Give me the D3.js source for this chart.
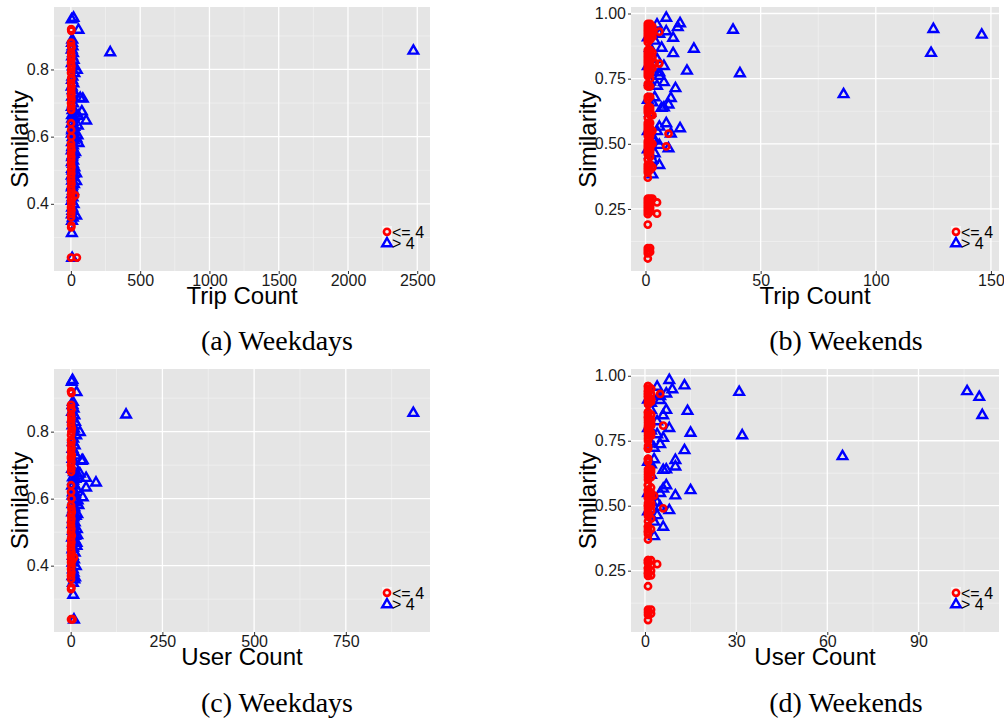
<!DOCTYPE html>
<html>
<head>
<meta charset="utf-8">
<script src="https://cdn.jsdelivr.net/npm/d3@7"></script>
<style>
  html, body { margin: 0; padding: 0; background: #ffffff; }
  svg { display: block; }
</style>
</head>
<body>
<svg id="chart" width="1004" height="720"></svg>
<script>
// ---------------- DATA ----------------
// Rows: [tripCount, userCount, similarity]
const weekdayLow = [
  [2,1,0.92],[3,2,0.915],[1,1,0.88],[2,1,0.87],[4,2,0.865],[1,1,0.85],[3,2,0.84],[2,1,0.83],
  [1,1,0.82],[4,3,0.81],[2,2,0.80],[1,1,0.79],[3,1,0.775],[2,2,0.77],[1,1,0.76],[4,2,0.75],
  [2,1,0.74],[3,3,0.73],[1,1,0.725],[2,1,0.72],[4,2,0.71],[1,1,0.70],[3,2,0.69],[2,1,0.68],
  [1,1,0.64],[2,1,0.62],[3,2,0.60],[1,1,0.58],[2,2,0.57],[4,3,0.56],[1,1,0.55],[3,2,0.54],
  [2,1,0.53],[1,1,0.52],[4,2,0.51],[2,1,0.50],[3,3,0.49],[1,1,0.48],[2,2,0.47],[4,1,0.46],
  [1,1,0.45],[3,2,0.44],[2,1,0.43],[31,9,0.425],[1,1,0.42],[6,4,0.415],[2,1,0.41],[3,2,0.40],
  [1,1,0.39],[4,2,0.38],[2,1,0.37],[1,1,0.36],[3,2,0.335],[2,1,0.33],[1,1,0.24],[43,5,0.24]
];
const weekdayHigh = [
  [2472,934,0.857],[284,151,0.852],[19,5,0.955],[5,3,0.95],[55,16,0.919],[43,25,0.80],
  [67,33,0.716],[86,30,0.714],[79,25,0.676],[55,42,0.663],[110,69,0.649],[50,42,0.634],
  [48,33,0.605],[55,21,0.582],[40,19,0.596],[31,18,0.555],[38,18,0.492],[38,16,0.469],
  [38,12,0.366],[7,7,0.314],[9,9,0.24],
  [10,6,0.89],[8,5,0.88],[12,8,0.87],[6,4,0.86],[15,10,0.85],[9,6,0.84],[20,12,0.83],[7,5,0.82],
  [14,9,0.81],[25,15,0.79],[11,7,0.78],[8,6,0.77],[18,11,0.76],[6,5,0.75],[13,8,0.74],[22,14,0.73],
  [9,5,0.72],[16,10,0.70],[7,4,0.69],[12,9,0.68],[30,20,0.67],[8,6,0.665],[20,13,0.66],[10,7,0.655],
  [14,8,0.645],[6,4,0.64],[25,16,0.63],[11,8,0.625],[9,6,0.62],[18,12,0.615],[7,5,0.61],[13,9,0.60],
  [22,15,0.59],[8,5,0.585],[15,10,0.575],[10,7,0.57],[6,4,0.56],[20,14,0.55],[12,8,0.545],[9,6,0.54],
  [16,11,0.53],[7,5,0.525],[14,10,0.52],[25,17,0.51],[8,6,0.505],[11,8,0.50],[18,12,0.49],[6,4,0.485],
  [13,9,0.48],[9,7,0.47],[22,16,0.46],[10,7,0.455],[7,5,0.45],[15,11,0.44],[8,6,0.43],[12,9,0.42],
  [6,5,0.41],[20,14,0.40],[9,6,0.39],[11,8,0.38],[7,5,0.37],[14,10,0.36],[8,6,0.35]
];
const weekendLow = [
  [1,1,0.96],[2,1,0.96],[1,1,0.95],[2,2,0.95],[3,2,0.95],[1,1,0.94],[2,1,0.94],[1,1,0.93],
  [2,2,0.93],[3,1,0.93],[6,5,0.93],[1,1,0.92],[2,1,0.92],[1,2,0.91],[2,1,0.91],[3,2,0.91],
  [1,1,0.90],[2,2,0.90],[1,1,0.89],
  [1,1,0.86],[2,1,0.86],[1,2,0.85],[2,2,0.85],[3,1,0.85],[1,1,0.84],[2,1,0.84],[1,1,0.83],
  [3,2,0.83],[1,2,0.82],[2,1,0.82],[1,1,0.81],[2,2,0.81],[4,2,0.81],[6,6,0.808],[1,1,0.80],
  [2,1,0.80],[1,1,0.79],[3,1,0.79],[1,2,0.78],[2,1,0.78],[1,1,0.77],[2,2,0.77],[1,1,0.76],
  [2,1,0.75],[1,1,0.73],[1,1,0.72],[2,1,0.72],
  [1,1,0.68],[2,1,0.68],[1,1,0.67],[1,2,0.64],[2,1,0.64],[1,1,0.63],[2,2,0.63],[1,1,0.62],
  [3,1,0.61],[2,2,0.61],[1,1,0.60],[1,1,0.58],[2,1,0.58],[1,2,0.57],[1,1,0.56],[2,1,0.56],
  [3,2,0.55],[1,1,0.55],[2,2,0.54],[1,1,0.54],[10,3,0.539],[1,1,0.53],[2,1,0.53],
  [1,1,0.51],[2,2,0.51],[1,1,0.50],[2,1,0.50],[3,2,0.50],[1,1,0.49],[9,6,0.49],[2,1,0.48],
  [1,2,0.48],[1,1,0.47],[2,1,0.47],[1,1,0.46],[2,2,0.45],[1,1,0.44],[1,1,0.42],[2,1,0.42],
  [1,1,0.41],[3,2,0.41],[1,1,0.40],[2,1,0.40],[1,1,0.39],[1,1,0.37],
  [1,1,0.29],[2,2,0.29],[3,1,0.29],[1,1,0.28],[2,1,0.28],[1,2,0.27],[5,4,0.275],[1,1,0.26],
  [2,1,0.26],[1,1,0.25],[2,2,0.25],[1,1,0.24],[2,1,0.24],[1,1,0.23],[5,2,0.232],
  [1,1,0.19],
  [1,1,0.10],[2,2,0.10],[1,1,0.09],[2,2,0.085],[1,1,0.08],[1,1,0.06]
];
const weekendHigh = [
  [9,8,0.985],[15,13,0.964],[5,4,0.959],[14,9,0.949],[38,31,0.939],[125,106,0.942],
  [146,110,0.920],[124,111,0.850],[9,7,0.933],[6,5,0.923],[12,5,0.908],[4,2,0.897],
  [7,7,0.870],[21,14,0.866],[12,6,0.849],[5,4,0.826],[8,8,0.80],[18,15,0.782],[41,32,0.772],
  [6,4,0.776],[6,6,0.762],[8,5,0.738],[5,3,0.724],[13,13,0.715],[86,65,0.692],[4,3,0.680],
  [11,10,0.677],[10,10,0.652],[8,7,0.641],[7,6,0.639],[9,7,0.580],[6,6,0.567],[15,15,0.561],
  [11,10,0.541],[5,5,0.550],[4,4,0.514],[6,5,0.497],[10,8,0.484],[4,4,0.465],[6,6,0.420],
  [3,3,0.384],[3,2,0.93],[2,2,0.87],[3,2,0.79],[2,2,0.74],[3,2,0.66],[2,2,0.62],[3,2,0.52],
  [1,1,0.91],[1,1,0.80],[1,1,0.67],[1,1,0.55],[1,1,0.48],[2,2,0.46],[3,3,0.44]
];

const tripWeekdayTicks = [0, 500, 1000, 1500, 2000, 2500];
const tripWeekdayLabels = ["0", "500", "1000", "1500", "2000", "2500"];
const userWeekdayTicks = [0, 250, 500, 750];
const userWeekdayLabels = ["0", "250", "500", "750"];
const tripWeekendTicks = [0, 50, 100, 150];
const tripWeekendLabels = ["0", "50", "100", "150"];
const userWeekendTicks = [0, 30, 60, 90];
const userWeekendLabels = ["0", "30", "60", "90"];
const simWeekdayTicks = [0.4, 0.6, 0.8];
const simWeekdayLabels = ["0.4", "0.6", "0.8"];
const simWeekendTicks = [0.25, 0.50, 0.75, 1.00];
const simWeekendLabels = ["0.25", "0.50", "0.75", "1.00"];
const legendLabels = ["<= 4", "> 4"];
const captions = ["(a) Weekdays", "(b) Weekends", "(c) Weekdays", "(d) Weekends"];

// ---------------- DRAW ----------------
const svg = d3.select("#chart");
svg.append("rect").attr("width", 1004).attr("height", 720).attr("fill", "#ffffff");

const SANS = "'Liberation Sans', Arial, Helvetica, sans-serif";
const SERIF = "'Liberation Serif', 'Times New Roman', Times, serif";
const RED = "#ff0000", BLUE = "#0000ff";

function minorBetween(ticks, domain) {
  const step = ticks[1] - ticks[0];
  const out = [];
  for (let i = -1; i < ticks.length; i++) {
    const v = (i < 0 ? ticks[0] - step : ticks[i]) + step / 2;
    if (v > domain[0] && v < domain[1]) out.push(v);
  }
  return out;
}

function triPath(cx, cy) {
  return `M${cx},${cy - 5}L${cx + 4.8},${cy + 3.3}L${cx - 4.8},${cy + 3.3}Z`;
}

function panel(cfg) {
  const x = d3.scaleLinear().domain(cfg.xDomain).range([cfg.left, cfg.right]);
  const y = d3.scaleLinear().domain(cfg.yDomain).range([cfg.bottom, cfg.top]);
  const g = svg.append("g");

  g.append("rect")
    .attr("x", cfg.left).attr("y", cfg.top)
    .attr("width", cfg.right - cfg.left).attr("height", cfg.bottom - cfg.top)
    .attr("fill", "#e5e5e5");

  const clip = "clip" + cfg.id;
  svg.append("clipPath").attr("id", clip).append("rect")
    .attr("x", cfg.left).attr("y", cfg.top)
    .attr("width", cfg.right - cfg.left).attr("height", cfg.bottom - cfg.top);

  const grid = g.append("g").attr("clip-path", `url(#${clip})`);
  const xMinor = minorBetween(cfg.xTicks, cfg.xDomain);
  const yMinor = minorBetween(cfg.yTicks, cfg.yDomain);
  grid.selectAll(".xm").data(xMinor).join("line")
    .attr("x1", d => x(d)).attr("x2", d => x(d)).attr("y1", cfg.top).attr("y2", cfg.bottom)
    .attr("stroke", "#f2f2f2").attr("stroke-width", 0.7);
  grid.selectAll(".ym").data(yMinor).join("line")
    .attr("y1", d => y(d)).attr("y2", d => y(d)).attr("x1", cfg.left).attr("x2", cfg.right)
    .attr("stroke", "#f2f2f2").attr("stroke-width", 0.7);
  grid.selectAll(".xM").data(cfg.xTicks).join("line")
    .attr("x1", d => x(d)).attr("x2", d => x(d)).attr("y1", cfg.top).attr("y2", cfg.bottom)
    .attr("stroke", "#ffffff").attr("stroke-width", 1.3);
  grid.selectAll(".yM").data(cfg.yTicks).join("line")
    .attr("y1", d => y(d)).attr("y2", d => y(d)).attr("x1", cfg.left).attr("x2", cfg.right)
    .attr("stroke", "#ffffff").attr("stroke-width", 1.3);

  // axes
  const xAxis = d3.axisBottom(x).tickValues(cfg.xTicks)
    .tickFormat((d, i) => cfg.xLabels[i]).tickSize(3).tickPadding(1);
  const yAxis = d3.axisLeft(y).tickValues(cfg.yTicks)
    .tickFormat((d, i) => cfg.yLabels[i]).tickSize(3).tickPadding(2);
  const gx = g.append("g").attr("transform", `translate(0,${cfg.bottom})`).call(xAxis);
  const gy = g.append("g").attr("transform", `translate(${cfg.left},0)`).call(yAxis);
  [gx, gy].forEach(a => {
    a.select(".domain").remove();
    a.selectAll(".tick line").attr("stroke", "#333333").attr("stroke-width", 1);
    a.selectAll(".tick text").attr("fill", "#1a1a1a")
      .style("font-family", SANS).style("font-size", "16px");
  });

  // titles
  g.append("text")
    .attr("x", (cfg.left + cfg.right) / 2).attr("y", cfg.bottom + 33)
    .attr("text-anchor", "middle").attr("fill", "#000")
    .style("font-family", SANS).style("font-size", "24px")
    .text(cfg.xTitle);
  g.append("text")
    .attr("transform", `translate(${cfg.yTitleX},${(cfg.top + cfg.bottom) / 2}) rotate(-90)`)
    .attr("text-anchor", "middle").attr("fill", "#000")
    .style("font-family", SANS).style("font-size", "24px")
    .text("Similarity");

  // points
  const pts = g.append("g").attr("clip-path", `url(#${clip})`);
  pts.selectAll(".hi").data(cfg.high).join("path")
    .attr("d", d => triPath(x(d[cfg.xi]), y(d[2])))
    .attr("fill", "none").attr("stroke", BLUE).attr("stroke-width", 2.4)
    .attr("stroke-linejoin", "miter");
  pts.selectAll(".lo").data(cfg.low).join("circle")
    .attr("cx", d => x(d[cfg.xi])).attr("cy", d => y(d[2])).attr("r", 3.1)
    .attr("fill", "none").attr("stroke", RED).attr("stroke-width", 2.6);

  // legend
  const lx = cfg.right - 48, ly = cfg.bottom - 45;
  const lg = g.append("g");
  lg.append("rect").attr("x", lx).attr("y", ly).attr("width", 10).attr("height", 22)
    .attr("fill", "#f5f5f5");
  lg.append("circle").attr("cx", lx + 5).attr("cy", ly + 5.8).attr("r", 3.1)
    .attr("fill", "none").attr("stroke", RED).attr("stroke-width", 2.6);
  lg.append("path").attr("d", triPath(lx + 5, ly + 17))
    .attr("fill", "none").attr("stroke", BLUE).attr("stroke-width", 2.4);
  lg.selectAll("text").data(legendLabels).join("text")
    .attr("x", lx + 10).attr("y", (d, i) => ly + 11.5 + i * 11)
    .attr("fill", "#000").style("font-family", SANS).style("font-size", "16px")
    .text(d => d);

  // caption
  g.append("text")
    .attr("x", cfg.capX).attr("y", cfg.capY)
    .attr("text-anchor", "middle").attr("fill", "#000")
    .style("font-family", SERIF).style("font-size", "28px")
    .text(cfg.caption);
}

panel({ id: "a", left: 54, right: 430, top: 7, bottom: 271, yTitleX: 28,
  xDomain: [-122, 2592], yDomain: [0.20, 0.986],
  xTicks: tripWeekdayTicks, xLabels: tripWeekdayLabels,
  yTicks: simWeekdayTicks, yLabels: simWeekdayLabels,
  xTitle: "Trip Count", xi: 0, low: weekdayLow, high: weekdayHigh,
  caption: captions[0], capX: 277, capY: 350 });
panel({ id: "b", left: 631, right: 999, top: 7, bottom: 271, yTitleX: 596,
  xDomain: [-6.3, 153.5], yDomain: [0.012, 1.025],
  xTicks: tripWeekendTicks, xLabels: tripWeekendLabels,
  yTicks: simWeekendTicks, yLabels: simWeekendLabels,
  xTitle: "Trip Count", xi: 0, low: weekendLow, high: weekendHigh,
  caption: captions[1], capX: 846, capY: 350 });
panel({ id: "c", left: 54, right: 430, top: 369, bottom: 632, yTitleX: 28,
  xDomain: [-45.5, 979.5], yDomain: [0.202, 0.987],
  xTicks: userWeekdayTicks, xLabels: userWeekdayLabels,
  yTicks: simWeekdayTicks, yLabels: simWeekdayLabels,
  xTitle: "User Count", xi: 1, low: weekdayLow, high: weekdayHigh,
  caption: captions[2], capX: 277, capY: 712 });
panel({ id: "d", left: 631, right: 999, top: 369, bottom: 632, yTitleX: 596,
  xDomain: [-4.6, 116.5], yDomain: [0.014, 1.026],
  xTicks: userWeekendTicks, xLabels: userWeekendLabels,
  yTicks: simWeekendTicks, yLabels: simWeekendLabels,
  xTitle: "User Count", xi: 1, low: weekendLow, high: weekendHigh,
  caption: captions[3], capX: 846, capY: 712 });
</script>
</body>
</html>
